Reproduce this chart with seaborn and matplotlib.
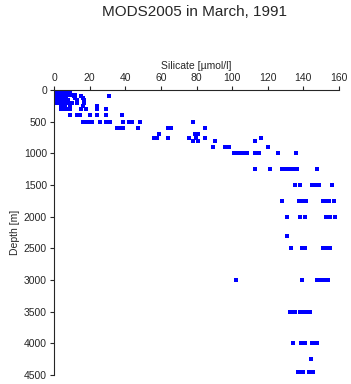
import pandas as pd
import matplotlib
matplotlib.use('Agg')
import matplotlib.pyplot as plt
import seaborn as sns

# depth levels [m] and silicate values [umol/l]
depth_levels = [0, 10, 20, 30, 50, 75, 100, 125, 150, 200, 250, 300, 400, 500,
                600, 700, 750, 800, 900, 1000, 1250, 1500, 1750, 2000, 2300,
                2500, 3000, 3500, 4000, 4250, 4450]
silicate_at_level = [
    [0.5, 1, 2, 3, 4, 5, 6, 8],
    [0.5, 1.5, 2.5, 4, 6, 7],
    [0.5, 1, 2, 3, 5, 6, 8],
    [1, 2, 3.5, 5, 9],
    [0.5, 1.5, 3, 4, 5, 6, 7, 9],
    [1, 2, 3, 4.5, 6, 8, 10, 12],
    [1, 2, 3, 4, 5.5, 7, 11, 15, 31],
    [1, 2, 3, 5, 6, 12, 16],
    [1, 2.5, 4, 6, 8, 13, 17],
    [1.5, 3, 5, 7, 8, 10, 13, 17],
    [4, 6, 9, 16, 24],
    [4, 5, 6.5, 9, 15, 18, 24, 29],
    [9, 13, 14.5, 20, 24, 29, 38],
    [16.5, 17.5, 19, 20.5, 21.5, 26, 29, 30, 31.5, 39, 42, 43, 44, 48, 78],
    [35.5, 36.5, 37.5, 39, 47, 64, 65.5, 85],
    [59, 79, 80, 81],
    [56, 57, 58, 64, 76, 79.5, 85, 116],
    [78, 81, 90.5, 113],
    [89, 96, 97, 98.5, 120],
    [101, 102, 103, 104, 106, 107, 108.5, 113, 114, 115, 126, 136],
    [113, 121, 128, 129, 130.5, 132, 133.5, 135, 136.5, 147.5],
    [135.5, 138, 144.7, 145.5, 146.5, 147.5, 148.5, 156],
    [128, 137.7, 139, 140.5, 141.5, 151, 152, 153.5, 154.6, 157],
    [131, 138, 141, 152.7, 155, 158],
    [131],
    [133, 139, 141, 151, 153, 155],
    [102, 139, 147.5, 149, 150.5, 152, 154],
    [132.5, 133.5, 135.3, 138, 139.5, 141, 142.5, 143.7],
    [134, 138.7, 140, 141, 144.7, 145.5, 146.5, 147.5],
    [144],
    [137, 138, 139, 140, 143, 144, 145, 145.6],
]
x_ticks = [0, 20, 40, 60, 80, 100, 120, 140, 160]
y_ticks = [0, 500, 1000, 1500, 2000, 2500, 3000, 3500, 4000, 4500]

rows = []
for d, vals in zip(depth_levels, silicate_at_level):
    for v in vals:
        rows.append({'Silicate': v, 'Depth': d})
df = pd.DataFrame(rows)

sns.set_style('ticks')
plt.rcParams['font.family'] = ['Liberation Sans', 'DejaVu Sans']

fig = plt.figure(figsize=(3.51, 3.84), dpi=100)
ax = fig.add_axes([54 / 351, 1 - 375 / 384, 285 / 351, 285 / 384])

sns.scatterplot(data=df, x='Silicate', y='Depth', ax=ax, color='#0000ff',
                marker='s', s=6, linewidth=0)

ax.set_xlim(0, 160)
ax.set_ylim(4500, 0)
ax.set_xticks(x_ticks)
ax.set_yticks(y_ticks)
ax.xaxis.tick_top()
ax.xaxis.set_label_position('top')
ax.set_xlabel('Silicate [µmol/l]', fontsize=7.5, labelpad=3)
ax.set_ylabel('Depth [m]', fontsize=7.5, labelpad=3)
ax.tick_params(labelsize=7.5, length=3, width=0.8, pad=2)
for side in ['right', 'bottom']:
    ax.spines[side].set_visible(False)
for side in ['top', 'left']:
    ax.spines[side].set_linewidth(0.8)

fig.text(195 / 351, 1 - 12 / 384, 'MODS2005 in March, 1991', fontsize=11,
         ha='center', va='center')

fig.savefig('out.png', dpi=100)
